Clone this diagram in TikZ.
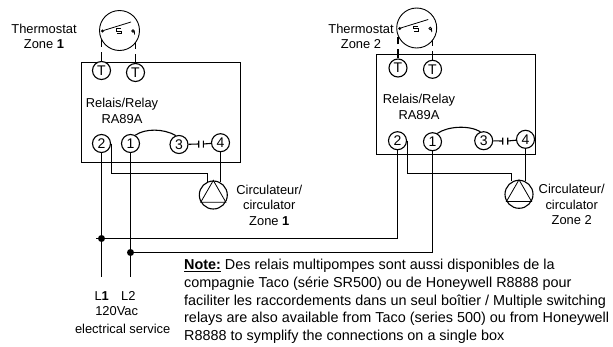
\documentclass[tikz,border=0pt]{standalone}
\usepackage{fontspec}
\setmainfont{Liberation Sans}

\tikzset{
  wire/.style={line width=1.1pt},
  lead/.style={wire,dash pattern=on 9pt off 5pt on 9pt},
  term/.style={circle,draw,wire,fill=white,minimum size=18pt,inner sep=0pt,font=\fontsize{14}{14}\selectfont},
  dial/.style={circle,draw,line width=0.9pt,minimum size=40pt,inner sep=0pt},
  pump/.style={circle,draw,wire,minimum size=28pt,inner sep=0pt},
  relaybox/.style={draw,wire,minimum width=159pt,minimum height=100pt,inner sep=0pt},
  junction/.style={circle,fill=black,minimum size=7pt,inner sep=0pt},
  label/.style={align=center,inner sep=0pt,font=\fontsize{12.9}{15.5}\selectfont}
}

\begin{document}
\begin{tikzpicture}[x=1pt,y=-1pt]
      \useasboundingbox (0,0) rectangle (613,346);

      % relay boxes
      \node[relaybox] (box1) at (161,112.5) {};
      \node[relaybox] (box2) at (456,104.5) {};

      % thermostats
      \node[dial] (th1) at (119.5,30.5) {};
      \node[dial] (th2) at (416.7,28) {};
      \foreach \cx/\cy in {119.5/30.5,416.7/28} {
        \begin{scope}[shift={(\cx,\cy)},line width=0.8pt]
          \draw (-17,0.5) circle (1);
          \draw (-16,0) -- (11.5,-8.5);
          \draw (1.5,-2) -- (-3,-2) -- (-3,0.8) -- (1.5,0.8) -- (1.5,3) -- (-3,3);
          \draw (13.5,0.5) circle (1.3);
          \draw (14.8,0.5) -- (15,4);
        \end{scope}
      }

      % terminals
      \begin{scope}[every node/.style={term}]
        \node (t1a) at (101.5,70.5) {T};
        \node (t1b) at (135.5,72.5) {T};
        \node (n12) at (101.5,143.5) {2};
        \node (n11) at (130.5,143.5) {1};
        \node (n13) at (179,144.5) {3};
        \node (n14) at (220.5,142.7) {4};
        \node (t2a) at (398,68) {T};
        \node (t2b) at (432.5,69.3) {T};
        \node (n22) at (397.5,140.7) {2};
        \node (n21) at (432.5,141.7) {1};
        \node (n23) at (483.7,140.7) {3};
        \node (n24) at (525.5,139.3) {4};
      \end{scope}

      % circulators
      \node[pump] (p1) at (213.3,195) {};
      \node[pump] (p2) at (519,194.3) {};
      \draw[line width=0.8pt] (p1.90) -- (p1.210) -- (p1.330) -- cycle;
      \draw[line width=0.8pt] (p2.90) -- (p2.210) -- (p2.330) -- cycle;

      % service
      \node[junction] (j1) at (101.5,238.5) {};
      \node[junction] (j2) at (130.5,252.5) {};
      \coordinate (l1) at (101.5,276.7);
      \coordinate (l2) at (130.5,276.7);
      \coordinate (stub) at (96,238.5);
      \coordinate (b1) at (207.5,173.5);
      \coordinate (b2) at (511.5,173.5);

      % wiring
      \begin{scope}[every path/.style={wire}]
        \draw[lead] (t1a) -- (t1a |- th1.206);
        \draw[lead] (t1b) -- (t1b |- th1.323);
        \draw[lead] (t2a) -- (t2a |- th2.206);
        \draw[lead] (t2b) -- (t2b |- th2.323);
        \draw (n12) -- (j1) -- (l1);
        \draw (n11) -- (j2) -- (l2);
        \draw (stub) -- (j1) -| (n22);
        \draw (j2) -| (n21);
        \draw (n12.east) |- (b1) -- (b1 |- p1.115);
        \draw (n22.east) |- (b2) -- (b2 |- p2.115);
        \draw (n14) -- (n14 |- p1.65);
        \draw (n24) -- (n24 |- p2.65);
        \draw (n11.60) .. controls +(10,-7) and +(-12,-7) .. (n13.110);
        \draw (n21.60) .. controls +(10,-7) and +(-12,-7) .. (n23.110);
        % capacitor plates between 3 and 4
        \draw (n13) -- (198.7,144) (198.7,140.5) -- (198.7,147.5);
        \draw (n14) -- (203.3,144) (203.3,140.5) -- (203.3,147.5);
        \draw (n23) -- (502.7,141) (502.7,137.5) -- (502.7,144.5);
        \draw (n24) -- (507.7,141) (507.7,137.5) -- (507.7,144.5);
      \end{scope}

      % labels
      \begin{scope}[every node/.style={label}]
        \node (lth1) at (44,36.5) {Thermostat\\Zone \textbf{1}};
        \node (lth2) at (361,36.5) {Thermostat\\Zone 2};
        \node (lrl1) at (122,111) {Relais/Relay\\RA89A};
        \node (lrl2) at (419,107) {Relais/Relay\\RA89A};
        \node (lp1) at (269.3,205) {Circulateur/\\circulator\\Zone \textbf{1}};
        \node (lp2) at (571.7,204.5) {Circulateur/\\circulator\\Zone 2};
        \node (ll1) at (101.7,296) {L\textbf{1}};
        \node (ll2) at (128.3,296) {L2};
        \node (lv) at (116.7,310.7) {120Vac};
        \node (ls) at (122.7,329) {electrical service};
        \node[anchor=north west,align=left,font=\fontsize{14.4}{17.6}\selectfont] (note) at (184,259.2)
          {\underline{\textbf{Note:}} Des relais multipompes sont aussi disponibles de la\\
           compagnie Taco (série SR500) ou de Honeywell R8888 pour\\
           faciliter les raccordements dans un seul boîtier / Multiple switching\\
           relays are also available from Taco (series 500) ou from Honeywell\\
           R8888 to symplify the connections on a single box};
      \end{scope}

\end{tikzpicture}
\end{document}
